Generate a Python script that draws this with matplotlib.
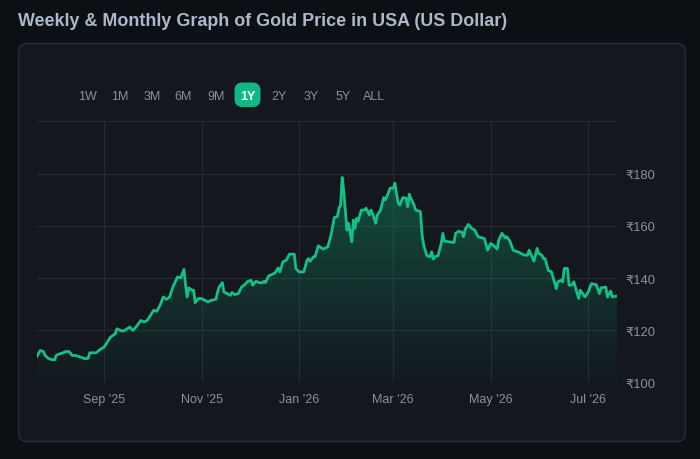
import numpy as np
import pandas as pd
import matplotlib
matplotlib.use("Agg")
import matplotlib.pyplot as plt
import matplotlib.dates as mdates
from matplotlib.patches import FancyBboxPatch

# Daily-ish gold price readings (as shown in the 1Y view)
dates = [
    "2025-07-21", "2025-07-23", "2025-07-25", "2025-07-26", "2025-07-28", "2025-07-30",
    "2025-08-01", "2025-08-02", "2025-08-04", "2025-08-06", "2025-08-08", "2025-08-10",
    "2025-08-12", "2025-08-14", "2025-08-16", "2025-08-18", "2025-08-20", "2025-08-22",
    "2025-08-23", "2025-08-25", "2025-08-27", "2025-08-30", "2025-09-01", "2025-09-03",
    "2025-09-05", "2025-09-07", "2025-09-08", "2025-09-09", "2025-09-11", "2025-09-13",
    "2025-09-15", "2025-09-17", "2025-09-19", "2025-09-21", "2025-09-24", "2025-09-26",
    "2025-09-28", "2025-09-30", "2025-10-02", "2025-10-04", "2025-10-06", "2025-10-08",
    "2025-10-10", "2025-10-12", "2025-10-14", "2025-10-17", "2025-10-19", "2025-10-21",
    "2025-10-22", "2025-10-23", "2025-10-24", "2025-10-26", "2025-10-27", "2025-10-28",
    "2025-10-30", "2025-11-01", "2025-11-03", "2025-11-05", "2025-11-07", "2025-11-10",
    "2025-11-11", "2025-11-12", "2025-11-14", "2025-11-15", "2025-11-17", "2025-11-19",
    "2025-11-20", "2025-11-22", "2025-11-24", "2025-11-26", "2025-11-28", "2025-11-30",
    "2025-12-02", "2025-12-03", "2025-12-05", "2025-12-07", "2025-12-09", "2025-12-10",
    "2025-12-11", "2025-12-13", "2025-12-15", "2025-12-17", "2025-12-19", "2025-12-20",
    "2025-12-22", "2025-12-24", "2025-12-26", "2025-12-29", "2025-12-30", "2026-01-01",
    "2026-01-04", "2026-01-06", "2026-01-07", "2026-01-08", "2026-01-10", "2026-01-11",
    "2026-01-13", "2026-01-14", "2026-01-16", "2026-01-19", "2026-01-21", "2026-01-22",
    "2026-01-23", "2026-01-25", "2026-01-26", "2026-01-27", "2026-01-28", "2026-01-29",
    "2026-01-31", "2026-02-01", "2026-02-03", "2026-02-04", "2026-02-05", "2026-02-06",
    "2026-02-07", "2026-02-09", "2026-02-11", "2026-02-12", "2026-02-14", "2026-02-15",
    "2026-02-16", "2026-02-18", "2026-02-19", "2026-02-21", "2026-02-23", "2026-02-24",
    "2026-02-25", "2026-02-27", "2026-03-01", "2026-03-02", "2026-03-04", "2026-03-05",
    "2026-03-07", "2026-03-09", "2026-03-10", "2026-03-11", "2026-03-12", "2026-03-14",
    "2026-03-15", "2026-03-18", "2026-03-19", "2026-03-20", "2026-03-22", "2026-03-24",
    "2026-03-25", "2026-03-26", "2026-03-27", "2026-03-29", "2026-03-31", "2026-04-01",
    "2026-04-02", "2026-04-05", "2026-04-08", "2026-04-09", "2026-04-11", "2026-04-13",
    "2026-04-14", "2026-04-15", "2026-04-17", "2026-04-19", "2026-04-21", "2026-04-23",
    "2026-04-27", "2026-04-29", "2026-05-01", "2026-05-03", "2026-05-05", "2026-05-06",
    "2026-05-08", "2026-05-10", "2026-05-11", "2026-05-13", "2026-05-15", "2026-05-19",
    "2026-05-22", "2026-05-24", "2026-05-25", "2026-05-28", "2026-05-30", "2026-05-31",
    "2026-06-02", "2026-06-03", "2026-06-04", "2026-06-06", "2026-06-08", "2026-06-11",
    "2026-06-12", "2026-06-14", "2026-06-15", "2026-06-16", "2026-06-18", "2026-06-19",
    "2026-06-21", "2026-06-22", "2026-06-25", "2026-06-26", "2026-06-29", "2026-07-01",
    "2026-07-03", "2026-07-06", "2026-07-08", "2026-07-09", "2026-07-12", "2026-07-13",
    "2026-07-15", "2026-07-16", "2026-07-19",
]
prices = [
    110.0, 112.2, 111.8, 110.3, 109.2, 108.7,
    108.6, 110.3, 110.9, 111.2, 111.8, 111.8,
    110.3, 110.3, 109.9, 109.5, 109.0, 109.2,
    111.3, 111.3, 111.3, 112.8, 113.5, 115.4,
    117.3, 118.2, 118.6, 120.5, 119.9, 119.6,
    120.3, 121.2, 119.9, 121.2, 123.7, 123.1,
    123.7, 125.6, 127.6, 127.2, 129.5, 132.7,
    131.8, 132.7, 136.5, 140.4, 140.0, 143.3,
    137.2, 132.7, 136.2, 135.3, 135.3, 130.5,
    132.1, 132.1, 131.4, 130.8, 131.4, 131.8,
    134.6, 136.5, 138.2, 134.6, 134.0, 133.3,
    134.4, 133.6, 134.0, 136.5, 137.4, 138.7,
    139.1, 137.2, 138.7, 138.2, 138.1, 138.7,
    138.2, 140.8, 141.3, 141.9, 143.8, 142.3,
    146.2, 146.8, 149.1, 149.1, 143.6, 142.3,
    142.3, 146.8, 147.4, 146.4, 148.1, 148.1,
    152.3, 151.9, 151.0, 151.9, 156.4, 159.6,
    163.1, 163.5, 166.7, 167.9, 178.5, 173.1,
    158.3, 160.9, 153.8, 162.2, 159.0, 162.8,
    161.8, 166.0, 166.0, 166.7, 164.1, 166.0,
    164.7, 160.9, 164.1, 166.0, 170.8, 169.9,
    171.2, 174.4, 174.4, 176.3, 168.6, 167.9,
    170.8, 170.5, 167.3, 172.1, 170.5, 167.9,
    166.0, 165.4, 156.4, 152.6, 148.5, 148.1,
    150.0, 147.2, 148.1, 148.5, 153.2, 157.1,
    154.1, 153.8, 153.6, 157.1, 157.9, 157.4,
    155.8, 158.7, 160.5, 159.0, 158.3, 155.8,
    155.1, 150.6, 153.2, 152.3, 151.0, 154.5,
    157.1, 155.4, 155.8, 154.1, 150.6, 149.7,
    148.7, 148.7, 150.6, 146.4, 151.3, 149.4,
    148.7, 147.4, 147.4, 142.9, 142.3, 135.9,
    138.5, 139.1, 138.5, 143.6, 143.6, 137.2,
    137.4, 138.5, 132.1, 135.3, 132.7, 134.6,
    137.8, 137.4, 134.0, 136.2, 136.5, 132.7,
    135.0, 132.7, 133.1,
]
range_buttons = ["1W", "1M", "3M", "6M", "9M", "1Y", "2Y", "3Y", "5Y", "ALL"]
active_button = "1Y"
y_ticks = [100, 120, 140, 160, 180, 200]
title = "Weekly & Monthly Graph of Gold Price in USA (US Dollar)"

PAGE_BG = "#0c0f14"
CARD_BG = "#14171e"
CARD_EDGE = "#243238"
GRID = "#252a33"
TXT = "#8a919d"
GREEN = "#14c184"

plt.rcParams["font.family"] = ["Liberation Sans", "DejaVu Sans"]

fig = plt.figure(figsize=(7, 4.6), dpi=100, facecolor=PAGE_BG)

# background layer in pixel coordinates
bg = fig.add_axes([0, 0, 1, 1])
bg.set_xlim(0, 700)
bg.set_ylim(460, 0)
bg.axis("off")
bg.add_patch(FancyBboxPatch((18.5, 44.5), 667, 398, boxstyle="round,pad=0,rounding_size=9",
                            fc=CARD_BG, ec=CARD_EDGE, lw=1.0))
bg.text(18, 21, title, ha="left", va="center", fontsize=12.9, fontweight="bold", color="#adb8c8")

btn_x = [87, 120, 152, 183.5, 216, 247.5, 279, 311, 343, 374.5]
for lab, bx in zip(range_buttons, btn_x):
    if lab == active_button:
        bg.add_patch(FancyBboxPatch((234.5, 83.5), 26, 24.5, boxstyle="round,pad=0,rounding_size=8",
                                    fc="#10b981", ec="none"))
        bg.text(bx, 96.5, lab, ha="center", va="center", fontsize=9, fontweight="bold", color="white")
    else:
        bg.text(bx, 96.5, lab, ha="center", va="center", fontsize=9, color=TXT)

# main chart
ax = fig.add_axes([37 / 700, 1 - 383.3 / 460, 580 / 700, 261 / 460])
ax.patch.set_visible(False)

x = mdates.date2num(pd.to_datetime(dates))
y = np.array(prices)

ax.set_xlim(x[0], x[-1])
ax.set_ylim(100, 200)

# gradient under the line
grad = np.linspace(0, 1, 256).reshape(-1, 1)
rgba = np.zeros((256, 1, 4))
rgba[..., 0] = 0x10 / 255
rgba[..., 1] = 0xb9 / 255
rgba[..., 2] = 0x81 / 255
rgba[..., 3] = 0.03 + 0.32 * grad ** 1.2
img = ax.imshow(rgba, extent=[x[0], x[-1], 100, y.max()], origin="lower",
                aspect="auto", zorder=1, interpolation="bilinear")
poly = ax.fill_between(x, y, 100, color="none", lw=0)
img.set_clip_path(poly.get_paths()[0], transform=ax.transData)

ax.plot(x, y, color=GREEN, lw=2.0, zorder=3, solid_joinstyle="round")

ax.set_yticks(y_ticks)
ax.set_yticklabels(["₹%d" % t if t < 200 else "" for t in y_ticks])
ax.yaxis.tick_right()
ax.xaxis.set_major_locator(mdates.MonthLocator(bymonth=[1, 3, 5, 7, 9, 11]))
ax.xaxis.set_major_formatter(mdates.DateFormatter("%b '%y"))
ax.tick_params(axis="y", length=0, pad=6, labelsize=9.3, labelcolor=TXT)
ax.tick_params(axis="x", length=0, pad=8, labelsize=9, labelcolor=TXT)
ax.grid(True, color=GRID, lw=0.8)
ax.set_axisbelow(True)
for s in ax.spines.values():
    s.set_visible(False)

fig.savefig("out.png", dpi=100, facecolor=PAGE_BG)
